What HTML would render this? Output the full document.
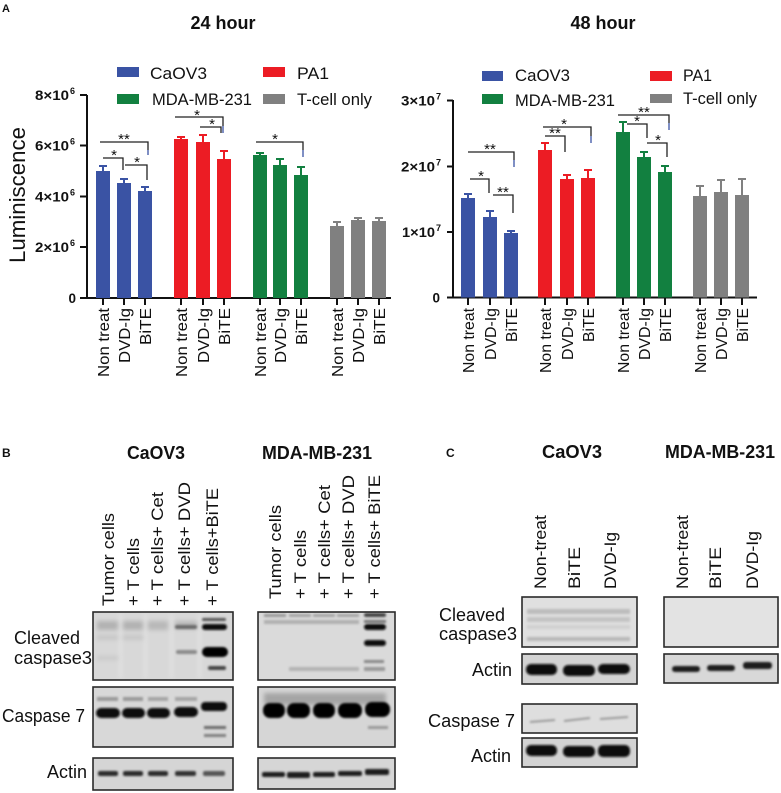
<!DOCTYPE html>
<html><head><meta charset="utf-8"><style>
html,body{margin:0;padding:0;background:#fff;}
svg{display:block;}
text{font-family:"Liberation Sans",Arial,sans-serif;fill:#111;}
</style></head><body>
<svg width="781" height="793" viewBox="0 0 781 793" xmlns="http://www.w3.org/2000/svg">
<defs>
<filter id="b1" x="-20%" y="-100%" width="140%" height="300%"><feGaussianBlur stdDeviation="1.1"/></filter>
<filter id="b2" x="-20%" y="-100%" width="140%" height="300%"><feGaussianBlur stdDeviation="2"/></filter>
</defs>
<rect width="781" height="793" fill="#fff"/>

<!-- ============ PANEL A ============ -->
<text x="2" y="12" font-size="11" font-weight="bold">A</text>
<text x="223" y="29" font-size="18" font-weight="bold" text-anchor="middle">24 hour</text>
<text x="603" y="29" font-size="18" font-weight="bold" text-anchor="middle">48 hour</text>

<!-- legend left -->
<rect x="117" y="67" width="22" height="10" fill="#3a53a4"/>
<text x="150" y="79" font-size="17" textLength="57" lengthAdjust="spacingAndGlyphs">CaOV3</text>
<rect x="263" y="67" width="22" height="10" fill="#ec1c24"/>
<text x="297" y="79" font-size="17" textLength="32" lengthAdjust="spacingAndGlyphs">PA1</text>
<rect x="117" y="94" width="22" height="10" fill="#128040"/>
<text x="152" y="105" font-size="17" textLength="100" lengthAdjust="spacingAndGlyphs">MDA-MB-231</text>
<rect x="263" y="94" width="22" height="10" fill="#808080"/>
<text x="297" y="105" font-size="17" textLength="75" lengthAdjust="spacingAndGlyphs">T-cell only</text>

<!-- legend right -->
<rect x="482" y="71" width="21" height="10" fill="#3a53a4"/>
<text x="515" y="81" font-size="17" textLength="55" lengthAdjust="spacingAndGlyphs">CaOV3</text>
<rect x="650" y="71" width="22" height="10" fill="#ec1c24"/>
<text x="683" y="81" font-size="17" textLength="29" lengthAdjust="spacingAndGlyphs">PA1</text>
<rect x="482" y="94" width="21" height="10" fill="#128040"/>
<text x="515" y="106" font-size="17" textLength="100" lengthAdjust="spacingAndGlyphs">MDA-MB-231</text>
<rect x="650" y="94" width="22" height="9" fill="#808080"/>
<text x="683" y="104" font-size="17" textLength="74" lengthAdjust="spacingAndGlyphs">T-cell only</text>

<!-- y label -->
<text transform="translate(25,195) rotate(-90)" font-size="22" text-anchor="middle" textLength="136" lengthAdjust="spacingAndGlyphs">Luminiscence</text>

<!-- left axes -->
<g stroke="#111" stroke-width="2" fill="none">
<path d="M87,95 V298"/>
<path d="M80,298 H391"/>
<path d="M80,95 H87 M80,145.5 H87 M80,196.5 H87 M80,247 H87"/>
<path d="M103,298 V305 M124,298 V305 M145,298 V305 M181,298 V305 M203,298 V305 M224,298 V305 M260,298 V305 M280,298 V305 M301,298 V305 M337,298 V305 M358,298 V305 M379,298 V305"/>
</g>
<g font-size="13.5" font-weight="bold">
<text x="69" y="100" text-anchor="end" textLength="34" lengthAdjust="spacingAndGlyphs">8×10</text><text x="70" y="94" font-size="9">6</text>
<text x="69" y="150.5" text-anchor="end" textLength="34" lengthAdjust="spacingAndGlyphs">6×10</text><text x="70" y="144.5" font-size="9">6</text>
<text x="69" y="201.5" text-anchor="end" textLength="34" lengthAdjust="spacingAndGlyphs">4×10</text><text x="70" y="195.5" font-size="9">6</text>
<text x="69" y="252" text-anchor="end" textLength="34" lengthAdjust="spacingAndGlyphs">2×10</text><text x="70" y="246" font-size="9">6</text>
<text x="76" y="303" text-anchor="end">0</text>
</g>

<!-- left bars -->
<g>
<rect x="96" y="171" width="14" height="127" fill="#3a53a4"/>
<rect x="117" y="183" width="14" height="115" fill="#3a53a4"/>
<rect x="138" y="191" width="14" height="107" fill="#3a53a4"/>
<rect x="174" y="139" width="14" height="159" fill="#ec1c24"/>
<rect x="196" y="142" width="14" height="156" fill="#ec1c24"/>
<rect x="217" y="159" width="14" height="139" fill="#ec1c24"/>
<rect x="253" y="155" width="14" height="143" fill="#128040"/>
<rect x="273" y="165" width="14" height="133" fill="#128040"/>
<rect x="294" y="175" width="14" height="123" fill="#128040"/>
<rect x="330" y="226" width="14" height="72" fill="#808080"/>
<rect x="351" y="220" width="14" height="78" fill="#808080"/>
<rect x="372" y="221" width="14" height="77" fill="#808080"/>
</g>
<g stroke-width="2" fill="none">
<path stroke="#3a53a4" d="M103,171 V166 M99,166 H107 M124,183 V179 M120,179 H128 M145,191 V187 M141,187 H149"/>
<path stroke="#ec1c24" d="M181,139 V137 M177,137 H185 M203,142 V135 M199,135 H207 M224,159 V151 M220,151 H228"/>
<path stroke="#128040" d="M260,155 V153 M256,153 H264 M280,165 V159 M276,159 H284 M301,175 V167 M297,167 H305"/>
<path stroke="#808080" d="M337,226 V222 M333,222 H341 M358,220 V218 M354,218 H362 M379,221 V218 M375,218 H383"/>
</g>
<!-- left brackets -->
<g stroke="#222" stroke-width="1.3" fill="none">
<path d="M100,142 H148 V150"/><path d="M148,150 V155" stroke="#3a53a4"/>
<path d="M103,158 H123 V170"/>
<path d="M125,165 H147 V180"/>
<path d="M175,117 H223 V126"/><path d="M223,126 V133" stroke="#3a53a4"/>
<path d="M200,127 H221 V133"/>
<path d="M256,142 H303 V150"/><path d="M303,150 V157" stroke="#3a53a4"/>
</g>
<g font-size="15" text-anchor="middle" fill="#222">
<text x="124" y="144">**</text>
<text x="114" y="160">*</text>
<text x="137" y="167">*</text>
<text x="197" y="120">*</text>
<text x="212" y="129">*</text>
<text x="275" y="144">*</text>
</g>
<!-- left x labels -->
<g font-size="16">
<text transform="translate(109,308) rotate(-90)" text-anchor="end" textLength="69" lengthAdjust="spacingAndGlyphs">Non treat</text>
<text transform="translate(130,308) rotate(-90)" text-anchor="end" textLength="55" lengthAdjust="spacingAndGlyphs">DVD-Ig</text>
<text transform="translate(151,308) rotate(-90)" text-anchor="end" textLength="37" lengthAdjust="spacingAndGlyphs">BiTE</text>
<text transform="translate(187,308) rotate(-90)" text-anchor="end" textLength="69" lengthAdjust="spacingAndGlyphs">Non treat</text>
<text transform="translate(209,308) rotate(-90)" text-anchor="end" textLength="55" lengthAdjust="spacingAndGlyphs">DVD-Ig</text>
<text transform="translate(230,308) rotate(-90)" text-anchor="end" textLength="37" lengthAdjust="spacingAndGlyphs">BiTE</text>
<text transform="translate(266,308) rotate(-90)" text-anchor="end" textLength="69" lengthAdjust="spacingAndGlyphs">Non treat</text>
<text transform="translate(286,308) rotate(-90)" text-anchor="end" textLength="55" lengthAdjust="spacingAndGlyphs">DVD-Ig</text>
<text transform="translate(307,308) rotate(-90)" text-anchor="end" textLength="37" lengthAdjust="spacingAndGlyphs">BiTE</text>
<text transform="translate(343,308) rotate(-90)" text-anchor="end" textLength="69" lengthAdjust="spacingAndGlyphs">Non treat</text>
<text transform="translate(364,308) rotate(-90)" text-anchor="end" textLength="55" lengthAdjust="spacingAndGlyphs">DVD-Ig</text>
<text transform="translate(385,308) rotate(-90)" text-anchor="end" textLength="37" lengthAdjust="spacingAndGlyphs">BiTE</text>
</g>

<!-- right axes -->
<g stroke="#111" stroke-width="2" fill="none">
<path d="M453,100 V297.5"/>
<path d="M447,297.5 H757"/>
<path d="M447,100.5 H453 M447,166.5 H453 M447,232 H453"/>
<path d="M468,297.5 V305 M490,297.5 V305 M511,297.5 V305 M545,297.5 V305 M567,297.5 V305 M588,297.5 V305 M623,297.5 V305 M644,297.5 V305 M665,297.5 V305 M700,297.5 V305 M721,297.5 V305 M742,297.5 V305"/>
</g>
<g font-size="13.5" font-weight="bold">
<text x="435" y="105.5" text-anchor="end" textLength="34" lengthAdjust="spacingAndGlyphs">3×10</text><text x="436" y="99.5" font-size="9">7</text>
<text x="435" y="171.5" text-anchor="end" textLength="34" lengthAdjust="spacingAndGlyphs">2×10</text><text x="436" y="165.5" font-size="9">7</text>
<text x="435" y="237" text-anchor="end" textLength="33" lengthAdjust="spacingAndGlyphs">1×10</text><text x="436" y="231" font-size="9">7</text>
<text x="440" y="302.5" text-anchor="end">0</text>
</g>
<!-- right bars -->
<g>
<rect x="461" y="198" width="14" height="99.5" fill="#3a53a4"/>
<rect x="483" y="217" width="14" height="80.5" fill="#3a53a4"/>
<rect x="504" y="233" width="14" height="64.5" fill="#3a53a4"/>
<rect x="538" y="150" width="14" height="147.5" fill="#ec1c24"/>
<rect x="560" y="179" width="14" height="118.5" fill="#ec1c24"/>
<rect x="581" y="178" width="14" height="119.5" fill="#ec1c24"/>
<rect x="616" y="132" width="14" height="165.5" fill="#128040"/>
<rect x="637" y="157" width="14" height="140.5" fill="#128040"/>
<rect x="658" y="172" width="14" height="125.5" fill="#128040"/>
<rect x="693" y="196" width="14" height="101.5" fill="#808080"/>
<rect x="714" y="192" width="14" height="105.5" fill="#808080"/>
<rect x="735" y="195" width="14" height="102.5" fill="#808080"/>
</g>
<g stroke-width="2" fill="none">
<path stroke="#3a53a4" d="M468,198 V194 M464,194 H472 M490,217 V211 M486,211 H494 M511,233 V231 M507,231 H515"/>
<path stroke="#ec1c24" d="M545,150 V143 M541,143 H549 M567,179 V175 M563,175 H571 M588,178 V170 M584,170 H592"/>
<path stroke="#128040" d="M623,132 V122 M619,122 H627 M644,157 V152 M640,152 H648 M665,172 V166 M661,166 H669"/>
<path stroke="#808080" d="M700,196 V186 M696,186 H704 M721,192 V180 M717,180 H725 M742,195 V179 M738,179 H746"/>
</g>
<g stroke="#222" stroke-width="1.3" fill="none">
<path d="M468,152 H514 V160"/><path d="M514,160 V167" stroke="#3a53a4"/>
<path d="M470,179 H489 V193"/>
<path d="M493,195 H513 V213"/>
<path d="M543,127 H591 V136"/><path d="M591,136 V143" stroke="#3a53a4"/>
<path d="M545,136 H565 V152"/>
<path d="M618,115 H669 V123"/><path d="M669,123 V130" stroke="#3a53a4"/>
<path d="M627,124 H647 V138"/>
<path d="M647,143 H667 V157"/>
</g>
<g font-size="15" text-anchor="middle" fill="#222">
<text x="490" y="154">**</text>
<text x="481" y="181">*</text>
<text x="503" y="197">**</text>
<text x="564" y="129">*</text>
<text x="555" y="138">**</text>
<text x="644" y="117">**</text>
<text x="637" y="126">*</text>
<text x="658" y="145">*</text>
</g>
<g font-size="16">
<text transform="translate(474,308) rotate(-90)" text-anchor="end" textLength="65" lengthAdjust="spacingAndGlyphs">Non treat</text>
<text transform="translate(496,308) rotate(-90)" text-anchor="end" textLength="52" lengthAdjust="spacingAndGlyphs">DVD-Ig</text>
<text transform="translate(517,308) rotate(-90)" text-anchor="end" textLength="34" lengthAdjust="spacingAndGlyphs">BiTE</text>
<text transform="translate(551,308) rotate(-90)" text-anchor="end" textLength="65" lengthAdjust="spacingAndGlyphs">Non treat</text>
<text transform="translate(573,308) rotate(-90)" text-anchor="end" textLength="52" lengthAdjust="spacingAndGlyphs">DVD-Ig</text>
<text transform="translate(594,308) rotate(-90)" text-anchor="end" textLength="34" lengthAdjust="spacingAndGlyphs">BiTE</text>
<text transform="translate(629,308) rotate(-90)" text-anchor="end" textLength="65" lengthAdjust="spacingAndGlyphs">Non treat</text>
<text transform="translate(650,308) rotate(-90)" text-anchor="end" textLength="52" lengthAdjust="spacingAndGlyphs">DVD-Ig</text>
<text transform="translate(671,308) rotate(-90)" text-anchor="end" textLength="34" lengthAdjust="spacingAndGlyphs">BiTE</text>
<text transform="translate(706,308) rotate(-90)" text-anchor="end" textLength="65" lengthAdjust="spacingAndGlyphs">Non treat</text>
<text transform="translate(727,308) rotate(-90)" text-anchor="end" textLength="52" lengthAdjust="spacingAndGlyphs">DVD-Ig</text>
<text transform="translate(748,308) rotate(-90)" text-anchor="end" textLength="34" lengthAdjust="spacingAndGlyphs">BiTE</text>
</g>

<!-- ============ PANEL B ============ -->
<text x="2" y="457" font-size="12" font-weight="bold">B</text>
<text x="156" y="459" font-size="18" font-weight="bold" text-anchor="middle" textLength="58" lengthAdjust="spacingAndGlyphs">CaOV3</text>
<text x="317" y="459" font-size="18" font-weight="bold" text-anchor="middle" textLength="110" lengthAdjust="spacingAndGlyphs">MDA-MB-231</text>
<g font-size="17">
<text transform="translate(114,606) rotate(-90)" textLength="93" lengthAdjust="spacingAndGlyphs">Tumor cells</text>
<text transform="translate(139,606) rotate(-90)" textLength="68" lengthAdjust="spacingAndGlyphs">+ T cells</text>
<text transform="translate(163,606) rotate(-90)" textLength="114" lengthAdjust="spacingAndGlyphs">+ T cells+ Cet</text>
<text transform="translate(190,606) rotate(-90)" textLength="124" lengthAdjust="spacingAndGlyphs">+ T cells+ DVD</text>
<text transform="translate(218,606) rotate(-90)" textLength="118" lengthAdjust="spacingAndGlyphs">+ T cells+BiTE</text>
<text transform="translate(281,599) rotate(-90)" textLength="94" lengthAdjust="spacingAndGlyphs">Tumor cells</text>
<text transform="translate(306,599) rotate(-90)" textLength="69" lengthAdjust="spacingAndGlyphs">+ T cells</text>
<text transform="translate(330,599) rotate(-90)" textLength="114" lengthAdjust="spacingAndGlyphs">+ T cells+ Cet</text>
<text transform="translate(354,599) rotate(-90)" textLength="124" lengthAdjust="spacingAndGlyphs">+ T cells+ DVD</text>
<text transform="translate(380,599) rotate(-90)" textLength="124" lengthAdjust="spacingAndGlyphs">+ T cells+ BiTE</text>
</g>
<g font-size="18">
<text x="14" y="644" textLength="66" lengthAdjust="spacingAndGlyphs">Cleaved</text>
<text x="14" y="664" textLength="78" lengthAdjust="spacingAndGlyphs">caspase3</text>
<text x="2" y="722" textLength="83" lengthAdjust="spacingAndGlyphs">Caspase 7</text>
<text x="47" y="778" textLength="40" lengthAdjust="spacingAndGlyphs">Actin</text>
</g>

<!-- B CaOV3 cleaved -->
<rect x="93" y="612" width="140" height="68" fill="#d8d8d8"/>
<g fill="#e2e2e2" filter="url(#b2)">
<rect x="119" y="614" width="3" height="64"/><rect x="144" y="614" width="3" height="64"/><rect x="170" y="614" width="3" height="64"/><rect x="198" y="614" width="3" height="64"/>
</g>
<g filter="url(#b2)">
<rect x="97" y="621" width="21" height="9" fill="#b2b2b2"/>
<rect x="123" y="621" width="20" height="9" fill="#b2b2b2"/>
<rect x="148" y="621" width="20" height="9" fill="#b8b8b8"/>
<rect x="175" y="621" width="22" height="8" fill="#b8b8b8"/>
<rect x="97" y="635" width="21" height="5" fill="#c6c6c6"/>
<rect x="123" y="635" width="20" height="5" fill="#c6c6c6"/>
<rect x="97" y="656" width="21" height="4" fill="#c8c8c8"/>
</g>
<g filter="url(#b1)">
<rect x="175" y="625" width="22" height="4" rx="2" fill="#6a6a6a"/>
<rect x="176" y="650" width="21" height="4" rx="2" fill="#8a8a8a"/>
<rect x="202" y="618" width="24" height="3" rx="1.5" fill="#555"/>
<rect x="202" y="624" width="25" height="6" rx="3" fill="#111"/>
<rect x="202" y="647" width="26" height="10" rx="5" fill="#050505"/>
<rect x="208" y="666" width="18" height="4" rx="2" fill="#444"/>
</g>
<rect x="93" y="612" width="140" height="68" fill="none" stroke="#2a2a2a" stroke-width="1.6"/>

<!-- B CaOV3 casp7 -->
<rect x="93" y="687" width="140" height="60" fill="#d8d8d8"/>
<g filter="url(#b1)">
<rect x="97" y="697" width="21" height="4" fill="#9a9a9a"/>
<rect x="123" y="697" width="20" height="4" fill="#9a9a9a"/>
<rect x="148" y="697" width="20" height="4" fill="#a5a5a5"/>
<rect x="175" y="697" width="22" height="4" fill="#a5a5a5"/>
<rect x="96" y="708" width="24" height="10" rx="5" fill="#0d0d0d"/>
<rect x="122" y="708" width="23" height="10" rx="5" fill="#0d0d0d"/>
<rect x="147" y="708" width="23" height="10" rx="5" fill="#111"/>
<rect x="174" y="707" width="24" height="10" rx="5" fill="#0d0d0d"/>
<rect x="201" y="702" width="26" height="9" rx="4" fill="#111"/>
<rect x="204" y="726" width="22" height="3" fill="#6a6a6a"/>
<rect x="204" y="734" width="22" height="3" fill="#808080"/>
</g>
<rect x="93" y="687" width="140" height="60" fill="none" stroke="#2a2a2a" stroke-width="1.6"/>

<!-- B CaOV3 actin -->
<rect x="93" y="758" width="140" height="32" fill="#d5d5d5"/>
<g filter="url(#b1)">
<rect x="98" y="771" width="20" height="5" rx="2" fill="#2b2b2b"/>
<rect x="123" y="771" width="20" height="5" rx="2" fill="#2b2b2b"/>
<rect x="148" y="771" width="20" height="5" rx="2" fill="#2b2b2b"/>
<rect x="175" y="771" width="21" height="5" rx="2" fill="#333"/>
<rect x="203" y="771" width="22" height="5" rx="2" fill="#555"/>
</g>
<rect x="93" y="758" width="140" height="32" fill="none" stroke="#2a2a2a" stroke-width="1.6"/>

<!-- B MDA cleaved -->
<rect x="258" y="612" width="137" height="68" fill="#dadada"/>
<g filter="url(#b1)">
<rect x="264" y="614" width="22" height="3" fill="#999"/>
<rect x="289" y="614" width="22" height="3" fill="#a5a5a5"/>
<rect x="313" y="614" width="22" height="3" fill="#a5a5a5"/>
<rect x="337" y="614" width="22" height="3" fill="#a5a5a5"/>
<rect x="264" y="620" width="95" height="4" fill="#b0b0b0"/>
<rect x="289" y="667" width="70" height="4" fill="#b4b4b4"/>
<rect x="364" y="613" width="22" height="4" rx="2" fill="#444"/>
<rect x="364" y="620" width="22" height="3" fill="#777"/>
<rect x="364" y="624" width="22" height="6" rx="3" fill="#111"/>
<rect x="364" y="640" width="22" height="6" rx="3" fill="#0d0d0d"/>
<rect x="364" y="660" width="20" height="3" fill="#888"/>
<rect x="364" y="667" width="21" height="4" fill="#999"/>
</g>
<rect x="258" y="612" width="137" height="68" fill="none" stroke="#2a2a2a" stroke-width="1.6"/>

<!-- B MDA casp7 -->
<rect x="258" y="687" width="137" height="60" fill="#d6d6d6"/>
<g filter="url(#b2)">
<rect x="264" y="693" width="122" height="12" fill="#a5a5a5"/>
</g>
<g filter="url(#b1)">
<rect x="263" y="703" width="22" height="15" rx="7" fill="#060606"/>
<rect x="287" y="703" width="23" height="15" rx="7" fill="#060606"/>
<rect x="313" y="703" width="22" height="15" rx="7" fill="#060606"/>
<rect x="338" y="703" width="24" height="15" rx="7" fill="#060606"/>
<rect x="365" y="702" width="25" height="15" rx="7" fill="#060606"/>
<rect x="368" y="726" width="20" height="3" fill="#999"/>
</g>
<rect x="258" y="687" width="137" height="60" fill="none" stroke="#2a2a2a" stroke-width="1.6"/>

<!-- B MDA actin -->
<rect x="258" y="758" width="137" height="31" fill="#d6d6d6"/>
<g filter="url(#b1)">
<rect x="262" y="772" width="23" height="5" rx="2" fill="#1f1f1f"/>
<rect x="287" y="772" width="23" height="6" rx="2" fill="#1f1f1f"/>
<rect x="313" y="772" width="22" height="5" rx="2" fill="#1f1f1f"/>
<rect x="338" y="771" width="24" height="5" rx="2" fill="#1f1f1f"/>
<rect x="365" y="769" width="24" height="6" rx="2" fill="#1f1f1f"/>
</g>
<rect x="258" y="758" width="137" height="31" fill="none" stroke="#2a2a2a" stroke-width="1.6"/>

<!-- ============ PANEL C ============ -->
<text x="446" y="457" font-size="12" font-weight="bold">C</text>
<text x="572" y="458" font-size="18" font-weight="bold" text-anchor="middle" textLength="60" lengthAdjust="spacingAndGlyphs">CaOV3</text>
<text x="720" y="458" font-size="18" font-weight="bold" text-anchor="middle" textLength="110" lengthAdjust="spacingAndGlyphs">MDA-MB-231</text>
<g font-size="17">
<text transform="translate(546,589) rotate(-90)" textLength="74" lengthAdjust="spacingAndGlyphs">Non-treat</text>
<text transform="translate(580,589) rotate(-90)" textLength="42" lengthAdjust="spacingAndGlyphs">BiTE</text>
<text transform="translate(616,589) rotate(-90)" textLength="57" lengthAdjust="spacingAndGlyphs">DVD-Ig</text>
<text transform="translate(688,589) rotate(-90)" textLength="74" lengthAdjust="spacingAndGlyphs">Non-treat</text>
<text transform="translate(721,589) rotate(-90)" textLength="42" lengthAdjust="spacingAndGlyphs">BiTE</text>
<text transform="translate(758,589) rotate(-90)" textLength="58" lengthAdjust="spacingAndGlyphs">DVD-Ig</text>
</g>
<g font-size="18">
<text x="439" y="621" textLength="66" lengthAdjust="spacingAndGlyphs">Cleaved</text>
<text x="439" y="640" textLength="78" lengthAdjust="spacingAndGlyphs">caspase3</text>
<text x="472" y="676" textLength="40" lengthAdjust="spacingAndGlyphs">Actin</text>
<text x="428" y="727" textLength="87" lengthAdjust="spacingAndGlyphs">Caspase 7</text>
<text x="471" y="762" textLength="40" lengthAdjust="spacingAndGlyphs">Actin</text>
</g>

<!-- C CaOV3 cleaved -->
<rect x="522" y="597" width="115" height="50" fill="#e0e0e0"/>
<g filter="url(#b1)">
<rect x="527" y="609" width="103" height="5" fill="#bdbdbd"/>
<rect x="527" y="617" width="103" height="5" fill="#c4c4c4"/>
<rect x="527" y="625" width="103" height="4" fill="#d0d0d0"/>
<rect x="527" y="637" width="103" height="4" fill="#b8b8b8"/>
</g>
<rect x="522" y="597" width="115" height="50" fill="none" stroke="#2a2a2a" stroke-width="1.6"/>

<!-- C CaOV3 actin -->
<rect x="522" y="654" width="115" height="30" fill="#d3d3d3"/>
<g filter="url(#b1)">
<rect x="526" y="664" width="31" height="11" rx="5" fill="#0d0d0d"/>
<rect x="563" y="665" width="32" height="11" rx="5" fill="#0d0d0d"/>
<rect x="598" y="664" width="32" height="10" rx="5" fill="#111"/>
</g>
<rect x="522" y="654" width="115" height="30" fill="none" stroke="#2a2a2a" stroke-width="1.6"/>

<!-- C CaOV3 casp7 -->
<rect x="522" y="704" width="115" height="29" fill="#dedede"/>
<g filter="url(#b1)">
<path d="M530,722 L555,720 M564,721 L590,718 M600,719 L628,717" stroke="#9a9a9a" stroke-width="2" fill="none"/>
</g>
<rect x="522" y="704" width="115" height="29" fill="none" stroke="#2a2a2a" stroke-width="1.6"/>

<!-- C CaOV3 actin2 -->
<rect x="522" y="738" width="115" height="29" fill="#d3d3d3"/>
<g filter="url(#b1)">
<rect x="526" y="745" width="31" height="11" rx="5" fill="#0d0d0d"/>
<rect x="563" y="746" width="32" height="11" rx="5" fill="#0d0d0d"/>
<rect x="598" y="745" width="32" height="12" rx="5" fill="#0d0d0d"/>
</g>
<rect x="522" y="738" width="115" height="29" fill="none" stroke="#2a2a2a" stroke-width="1.6"/>

<!-- C MDA cleaved -->
<rect x="664" y="597" width="114" height="50" fill="#e3e3e3"/>
<rect x="664" y="597" width="114" height="50" fill="none" stroke="#2a2a2a" stroke-width="1.6"/>

<!-- C MDA actin -->
<rect x="664" y="654" width="114" height="29" fill="#d8d8d8"/>
<g filter="url(#b1)">
<rect x="672" y="666" width="28" height="6" rx="3" fill="#1a1a1a"/>
<rect x="707" y="665" width="28" height="6" rx="3" fill="#1a1a1a"/>
<rect x="743" y="662" width="29" height="7" rx="3" fill="#1a1a1a"/>
</g>
<rect x="664" y="654" width="114" height="29" fill="none" stroke="#2a2a2a" stroke-width="1.6"/>

</svg>
</body></html>
